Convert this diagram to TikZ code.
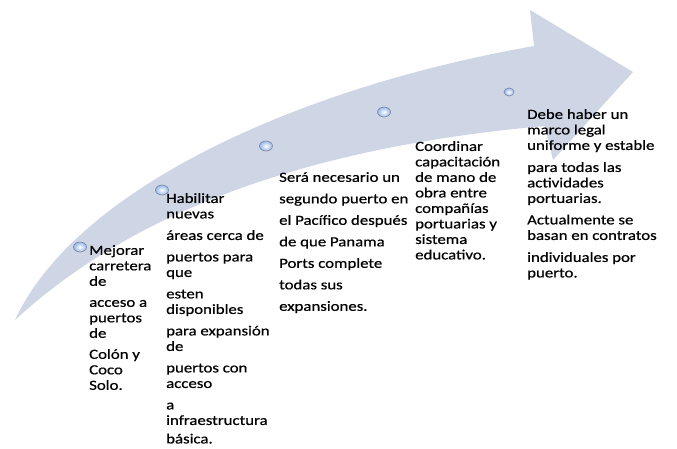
\documentclass[tikz,border=0pt]{standalone}
\usepackage{fontspec}
\setmainfont{Carlito}[FakeStretch=1.2, FakeBold=0.6]
\usetikzlibrary{shapes.geometric}

\definecolor{arrowgray}{RGB}{206,213,228}
\definecolor{dotblue}{RGB}{150,182,232}
\definecolor{dotrim}{RGB}{120,132,155}

\tikzset{dnode/.style = {shape = ellipse,
                         draw = dotrim,
                         line width = 0.6pt,
                         inner color = white,
                         outer color = dotblue,
                         inner sep = 0pt,
                         minimum width = 13pt,
                         minimum height = 10pt},
         tnode/.style = {anchor = north west,
                         align = left,
                         inner sep = 0pt,
                         font = \fontsize{14}{15.5}\selectfont}}

\begin{document}
\begin{tikzpicture}[x=1pt, y=-1pt]
		\useasboundingbox (0,0) rectangle (677,449);
		% curved arrow
		\fill[arrowgray] (15,320) .. controls (75,190) and (295,88) .. (534,46)
		      -- (530,10) -- (633,72) -- (553,160) -- (545,126)
		      .. controls (250,152) and (100,242) .. (15,320) -- cycle;
		% steps on the arrow
		\node[dnode] (d1) at (80,247) {};
		\node[dnode] (d2) at (162,190) {};
		\node[dnode] (d3) at (266,146) {};
		\node[dnode] (d4) at (384,112) {};
		\node[dnode, minimum width = 10pt, minimum height = 8pt] (d5) at (509,92) {};
		% texts
		\node[tnode] (t1) at (89,245) {Mejorar\\carretera\\de\\[5.5pt]
		      acceso a\\puertos\\de\\[5.5pt]
		      Colón y\\Coco\\Solo.};
		\node[tnode] (t2) at (166,193) {Habilitar\\nuevas\\[6pt]
		      áreas cerca de\\[6pt]
		      puertos para\\que\\[6pt]
		      esten\\disponibles\\[6pt]
		      para expansión\\de\\[6pt]
		      puertos con\\acceso\\[6pt]
		      a\\infraestructura\\[3pt]
		      básica.};
		\node[tnode] (t3) at (279,172) {Será necesario un\\[6pt]
		      segundo puerto en\\[6pt]
		      el Pacífico después\\[6pt]
		      de que Panama\\[6pt]
		      Ports complete\\[6pt]
		      todas sus\\[6pt]
		      expansiones.};
		\node[tnode] (t4) at (415,141) {Coordinar\\capacitación\\de mano de\\obra entre\\compañías\\portuarias y\\sistema\\educativo.};
		\node[tnode] (t5) at (527,109) {Debe haber un\\marco legal\\uniforme y estable\\[6.5pt]
		      para todas las\\actividades\\portuarias.\\[6pt]
		      Actualmente se\\basan en contratos\\[6.5pt]
		      individuales por\\puerto.};
	\end{tikzpicture}
\end{document}
